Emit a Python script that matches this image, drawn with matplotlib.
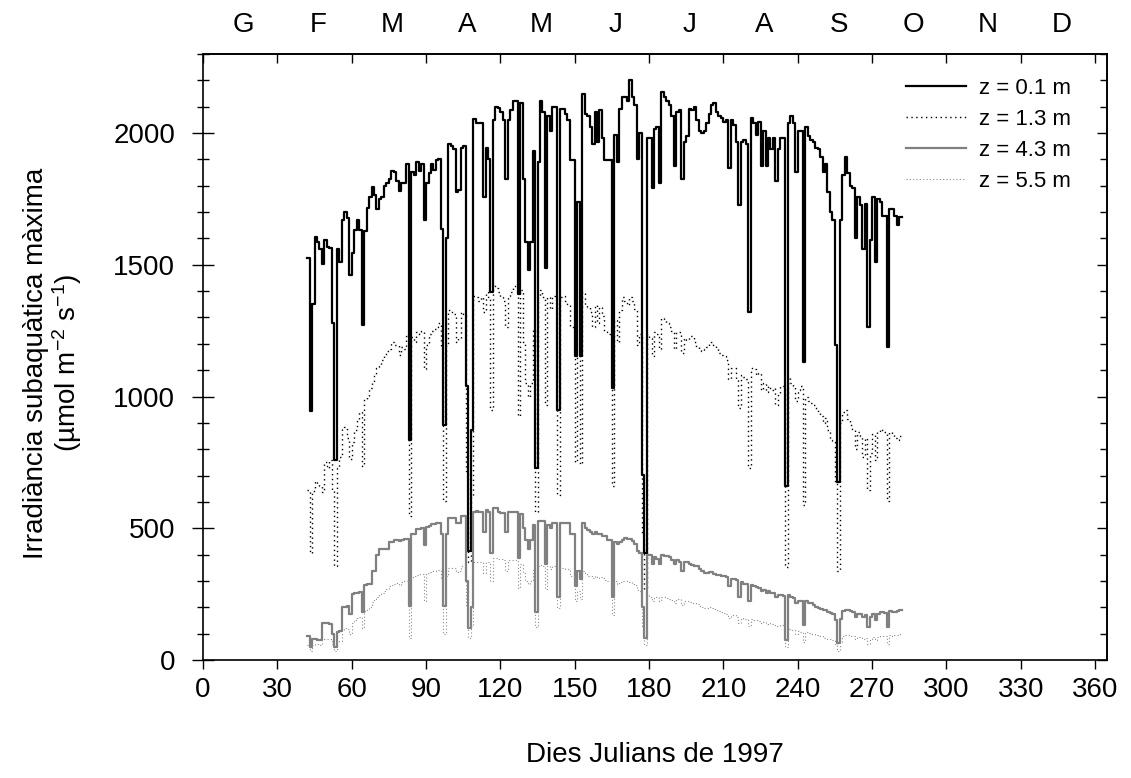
import numpy as np
import matplotlib
matplotlib.use("Agg")
import matplotlib.pyplot as plt
from matplotlib.ticker import MultipleLocator

plt.rcParams['font.family'] = ['Liberation Sans', 'DejaVu Sans']
plt.rcParams['mathtext.default'] = 'regular'

# dies julians (1997) amb mesura
dies = np.arange(42, 283)

# irradiància màxima a z = 0.1 m
z01 = [1525, 944, 1350, 1604, 1587, 1559, 1503, 1594, 1566, 1562,
       1278, 758, 1559, 1510, 1671, 1702, 1678, 1461, 1545, 1632,
       1671, 1632, 1271, 1629, 1716, 1756, 1795, 1763, 1713, 1749,
       1756, 1798, 1812, 1826, 1857, 1851, 1819, 1781, 1812, 1812,
       1882, 836, 1851, 1840, 1889, 1857, 1882, 1669, 1812, 1847,
       1882, 1861, 1896, 1903, 1636, 892, 1601, 1959, 1952, 1938,
       1777, 1784, 1945, 1952, 1039, 414, 871, 2053, 2037, 2037,
       2037, 1756, 1945, 1900, 1397, 2050, 2100, 2096, 2079, 2050,
       1826, 2050, 2086, 2121, 2121, 1390, 2114, 1826, 1587, 1482,
       1587, 1931, 730, 1889, 2121, 2079, 1489, 2065, 2008, 2100,
       2100, 948, 2093, 2093, 2072, 2050, 1896, 1896, 1152, 1740,
       1152, 2149, 2072, 2065, 2022, 1959, 2079, 1966, 2086, 1980,
       1896, 1896, 1896, 1032, 1994, 1889, 2093, 2135, 2135, 2120,
       2200, 2135, 2107, 1903, 2001, 702, 407, 1980, 1980, 1791,
       2015, 2022, 1812, 2156, 2135, 2121, 2107, 2065, 1875, 2079,
       2086, 1826, 1966, 1987, 2093, 2086, 2100, 2050, 2008, 2001,
       2008, 2037, 2072, 2107, 2114, 2079, 2065, 2058, 2043, 2050,
       1868, 2050, 2029, 1966, 1728, 1966, 1973, 1959, 1320, 2058,
       2037, 1994, 2043, 1875, 2008, 1875, 1980, 1938, 1980, 1819,
       1938, 1980, 1980, 660, 2037, 2065, 2037, 1854, 2008, 2008,
       1131, 2022, 1987, 1973, 1966, 1945, 1938, 1910, 1854, 1882,
       1777, 1699, 1671, 1194, 674, 1671, 1840, 1910, 1847, 1798,
       1791, 1601, 1756, 1728, 1559, 1730, 1264, 1594, 1756, 1510,
       1749, 1740, 1685, 1685, 1187, 1713, 1713, 1685, 1650, 1680,
       1680]

# z = 1.3 m
z13 = [646, 407, 640, 681, 667, 660, 639, 751, 730, 758,
       646, 358, 730, 772, 878, 885, 843, 761, 829, 871,
       913, 941, 737, 990, 997, 1032, 1053, 1081, 1110, 1117,
       1138, 1159, 1173, 1180, 1208, 1194, 1194, 1159, 1187, 1180,
       1229, 548, 1225, 1208, 1243, 1236, 1250, 1103, 1194, 1236,
       1250, 1257, 1264, 1278, 1180, 604, 1194, 1327, 1320, 1313,
       1208, 1222, 1320, 1313, 716, 372, 620, 1383, 1376, 1362,
       1376, 1320, 1397, 1376, 948, 1426, 1411, 1397, 1376, 1362,
       1264, 1383, 1397, 1419, 1419, 927, 1404, 1208, 1053, 997,
       1053, 1264, 562, 1376, 1404, 1376, 969, 1376, 1334, 1383,
       1376, 625, 1376, 1383, 1362, 1348, 1264, 1264, 751, 1152,
       744, 1397, 1348, 1341, 1320, 1264, 1348, 1278, 1341, 1306,
       1250, 1243, 1236, 660, 1292, 1208, 1327, 1376, 1362, 1348,
       1376, 1362, 1334, 1194, 1236, 478, 260, 1236, 1222, 1152,
       1243, 1236, 1180, 1299, 1292, 1278, 1264, 1250, 1180, 1243,
       1243, 1166, 1222, 1215, 1229, 1229, 1208, 1187, 1180, 1173,
       1180, 1187, 1201, 1208, 1194, 1180, 1166, 1159, 1152, 1138,
       1067, 1110, 1110, 1067, 955, 1081, 1074, 1067, 730, 1110,
       1103, 1081, 1088, 1025, 1053, 1018, 1039, 1025, 1032, 969,
       1011, 1039, 1039, 351, 1074, 1053, 1039, 983, 1025, 1039,
       590, 997, 983, 976, 969, 955, 941, 927, 899, 920,
       871, 836, 829, 674, 337, 899, 941, 948, 913, 892,
       871, 801, 864, 850, 772, 843, 646, 787, 857, 758,
       864, 878, 871, 864, 604, 864, 857, 843, 836, 850,
       850]

# z = 4.3 m
z43 = [90, 50, 80, 80, 75, 75, 140, 140, 140, 135,
       100, 50, 105, 110, 200, 200, 205, 175, 250, 253,
       255, 258, 183, 285, 288, 290, 337, 337, 400, 421,
       421, 421, 421, 449, 449, 456, 456, 450, 456, 458,
       460, 204, 477, 477, 499, 499, 500, 435, 505, 510,
       515, 515, 520, 520, 480, 204, 480, 540, 540, 540,
       520, 520, 545, 545, 300, 120, 200, 562, 565, 560,
       560, 485, 569, 560, 407, 576, 576, 560, 556, 556,
       485, 562, 562, 562, 562, 386, 555, 500, 456, 421,
       456, 513, 183, 527, 527, 527, 365, 513, 500, 520,
       520, 239, 520, 520, 520, 520, 478, 478, 281, 337,
       309, 520, 500, 492, 485, 478, 485, 478, 478, 470,
       470, 456, 456, 239, 449, 442, 449, 456, 463, 460,
       460, 450, 442, 414, 407, 200, 84, 400, 400, 365,
       390, 385, 365, 400, 395, 395, 390, 379, 365, 379,
       372, 337, 372, 372, 365, 360, 358, 358, 345, 337,
       330, 330, 335, 335, 325, 323, 323, 320, 318, 315,
       281, 309, 309, 305, 239, 295, 290, 288, 225, 285,
       281, 278, 272, 260, 267, 255, 262, 253, 253, 240,
       246, 246, 242, 77, 246, 240, 235, 215, 225, 225,
       133, 225, 218, 215, 210, 200, 197, 195, 190, 188,
       183, 180, 175, 150, 63, 154, 185, 190, 188, 185,
       183, 165, 176, 176, 165, 172, 126, 165, 175, 150,
       175, 183, 183, 180, 126, 185, 183, 183, 185, 190,
       190]

# z = 5.5 m
z55 = [55, 35, 55, 60, 60, 58, 75, 80, 80, 78,
       60, 35, 70, 72, 115, 120, 118, 100, 140, 150,
       160, 165, 120, 185, 195, 200, 220, 230, 240, 250,
       255, 262, 270, 280, 285, 290, 292, 285, 295, 298,
       300, 84, 315, 318, 323, 325, 328, 225, 330, 333,
       337, 337, 340, 342, 310, 98, 320, 350, 350, 350,
       335, 338, 355, 355, 200, 84, 130, 372, 372, 370,
       372, 330, 372, 372, 300, 386, 386, 385, 382, 380,
       337, 379, 379, 380, 380, 274, 365, 330, 300, 288,
       300, 340, 126, 358, 360, 358, 270, 355, 345, 355,
       355, 197, 350, 348, 345, 344, 320, 320, 225, 260,
       230, 337, 330, 320, 318, 312, 318, 312, 315, 310,
       305, 300, 300, 169, 298, 290, 295, 298, 300, 298,
       295, 290, 285, 265, 260, 130, 56, 245, 240, 225,
       240, 238, 225, 240, 238, 235, 232, 228, 215, 230,
       232, 210, 225, 222, 220, 218, 215, 212, 205, 200,
       197, 197, 200, 198, 195, 190, 185, 182, 178, 175,
       160, 170, 169, 165, 140, 160, 157, 155, 130, 154,
       152, 150, 148, 140, 145, 138, 140, 135, 133, 128,
       130, 131, 128, 49, 118, 115, 112, 100, 110, 108,
       70, 105, 102, 100, 98, 95, 92, 90, 85, 85,
       80, 78, 75, 60, 35, 70, 92, 95, 93, 91,
       90, 78, 88, 88, 80, 85, 60, 80, 88, 75,
       88, 92, 92, 90, 60, 93, 92, 93, 95, 98,
       100]

mesos = ['G', 'F', 'M', 'A', 'M', 'J', 'J', 'A', 'S', 'O', 'N', 'D']
etiquetes = ['z = 0.1 m', 'z = 1.3 m', 'z = 4.3 m', 'z = 5.5 m']

fig = plt.figure(figsize=(11.31, 7.78), dpi=100)
ax = fig.add_axes([0.1795, 0.1517, 0.7997, 0.7789])

ax.plot(dies, z01, drawstyle='steps-post', color='black', lw=1.6, label=etiquetes[0])
ax.plot(dies, z13, drawstyle='steps-post', color='black', lw=1.0,
        linestyle=(0, (1, 2.5)), label=etiquetes[1])
ax.plot(dies, z43, drawstyle='steps-post', color='#808080', lw=1.6, label=etiquetes[2])
ax.plot(dies, z55, drawstyle='steps-post', color='#8c8c8c', lw=0.8,
        linestyle=(0, (1, 2)), label=etiquetes[3])

ax.set_xlim(0, 365)
ax.set_ylim(0, 2300)

# eix x: marques cap a fora a baix
ax.set_xticks(np.arange(0, 361, 30))
ax.tick_params(axis='x', direction='out', length=6.5, width=1, labelsize=20, pad=6)

# eix y esquerre: marques creuades
ax.yaxis.set_major_locator(MultipleLocator(500))
ax.yaxis.set_minor_locator(MultipleLocator(100))
ax.tick_params(axis='y', which='major', direction='inout', length=16, width=1,
               labelsize=20, pad=12)
ax.tick_params(axis='y', which='minor', direction='inout', length=8, width=1)

# eix superior i dret: marques cap a dins
top = ax.secondary_xaxis('top')
top.set_xticks(np.arange(0, 361, 30))
top.tick_params(direction='in', length=6.5, width=1, labeltop=False)
right = ax.secondary_yaxis('right')
right.yaxis.set_major_locator(MultipleLocator(500))
right.yaxis.set_minor_locator(MultipleLocator(100))
right.tick_params(which='major', direction='in', length=7, width=1, labelright=False)
right.tick_params(which='minor', direction='in', length=5, width=1)

for sp in ax.spines.values():
    sp.set_linewidth(1.2)
top.spines['top'].set_linewidth(1.2)
right.spines['right'].set_linewidth(1.2)

# lletres dels mesos
for i, m in enumerate(mesos):
    ax.text(16.5 + 30 * i, 1.048, m, transform=ax.get_xaxis_transform(),
            ha='center', va='center', fontsize=20)

ax.set_xlabel('Dies Julians de 1997', fontsize=20)
ax.xaxis.set_label_coords(0.5, -0.135)
ax.set_ylabel('Irradiància subaquàtica màxima\n(µmol m$^{-2}$ s$^{-1}$)',
              fontsize=20, linespacing=1.05)
ax.yaxis.set_label_coords(-0.132, 0.49)

ax.legend(loc='upper right', bbox_to_anchor=(0.97, 0.975), borderaxespad=0,
          frameon=False, fontsize=16, handlelength=2.7, labelspacing=0.45,
          handletextpad=0.6)

fig.savefig('out.png', dpi=100)
